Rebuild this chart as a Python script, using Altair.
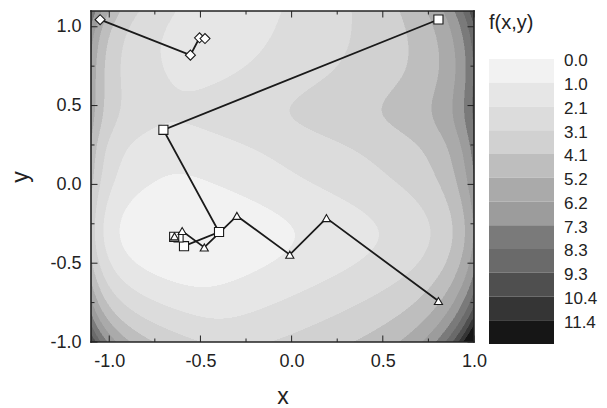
import numpy as np
import pandas as pd
import altair as alt

FONT = "Liberation Sans"
INK = "#222222"

# ---------------- axes ----------------
X_RANGE = [-1.1, 1.0]
Y_RANGE = [-1.0, 1.1]
x_major = [-1.0, -0.5, 0.0, 0.5, 1.0]
x_minor = [-0.75, -0.25, 0.25, 0.75]
y_major = [-1.0, -0.5, 0.0, 0.5, 1.0]
y_minor = [-0.75, -0.25, 0.25, 0.75]

# ---------------- colour levels ----------------
level_labels = ["0.0", "1.0", "2.1", "3.1", "4.1", "5.2", "6.2", "7.3", "8.3", "9.3", "10.4", "11.4"]
level_bounds = [1.04, 2.07, 3.11, 4.15, 5.18, 6.22, 7.25, 8.29, 9.33, 10.36, 11.40]
band_colors = ["#f2f2f2", "#e6e6e6", "#dcdcdc", "#d1d1d1", "#bebebe", "#aaaaaa",
               "#9c9c9c", "#7a7a7a", "#6a6a6a", "#4f4f4f", "#353535", "#161616"]

# ---------------- optimisation paths ----------------
diamond_x = [-1.05, -0.555, -0.505, -0.475]
diamond_y = [1.045, 0.82, 0.93, 0.925]
square_x = [0.805, -0.703, -0.398, -0.59, -0.62, -0.644]
square_y = [1.046, 0.346, -0.302, -0.392, -0.337, -0.333]
triangle_x = [0.805, 0.191, -0.01, -0.30, -0.479, -0.60, -0.642]
triangle_y = [-0.74, -0.214, -0.446, -0.20, -0.40, -0.296, -0.33]

# ---------------- surface shape ----------------
floor_y = [-1.0, -0.65, -0.3, 0.04, 0.24, 0.39, 0.48, 0.575, 0.69, 0.9, 1.1]
floor_val = [2.8, 1.0, 0.0, 0.95, 1.5, 2.03, 2.15, 2.07, 1.85, 1.55, 1.45]
centre_y = [-1.0, -0.65, -0.3, 0.04, 0.45, 0.7, 0.9, 1.1]
centre_x = [-0.35, -0.5, -0.6, -0.63, -0.64, -0.53, -0.47, -0.4]
slope_y = [-1.0, -0.3, 0.45, 1.1]
slope_right = [2.2, 2.15, 1.95, 2.55]
slope_left = [2.4, 2.4, 2.4, 2.4]
wall_right_amp = [3.0, 3.0, 3.4, 3.0]


def spline(xk, yk, xq):
    xk = np.asarray(xk, float)
    yk = np.asarray(yk, float)
    n = len(xk)
    h = np.diff(xk)
    A = np.zeros((n, n))
    r = np.zeros(n)
    A[0, 0] = 1.0
    A[-1, -1] = 1.0
    for i in range(1, n - 1):
        A[i, i - 1] = h[i - 1]
        A[i, i] = 2 * (h[i - 1] + h[i])
        A[i, i + 1] = h[i]
        r[i] = 6 * ((yk[i + 1] - yk[i]) / h[i] - (yk[i] - yk[i - 1]) / h[i - 1])
    M = np.linalg.solve(A, r)
    xq = np.clip(xq, xk[0], xk[-1])
    idx = np.clip(np.searchsorted(xk, xq) - 1, 0, n - 2)
    x0, x1 = xk[idx], xk[idx + 1]
    hh = x1 - x0
    t0, t1 = x1 - xq, xq - x0
    return ((M[idx] * t0 ** 3 + M[idx + 1] * t1 ** 3) / (6 * hh)
            + (yk[idx] / hh - M[idx] * hh / 6) * t0
            + (yk[idx + 1] / hh - M[idx + 1] * hh / 6) * t1)


def surface(x, y):
    m = spline(floor_y, floor_val, y)
    c = spline(centre_y, centre_x, y)
    aR = spline(slope_y, slope_right, y)
    aL = spline(slope_y, slope_left, y)
    AR = spline(slope_y, wall_right_amp, y)
    d = x - c
    hd = np.sqrt(d ** 2 + 0.15 ** 2) - 0.15
    f = m + np.where(d > 0, aR, aL) * hd
    u = x + 1.1
    f += AR * np.exp(8 * (x - 1))
    f += 2.6 * np.exp(4.5 * (x - 1) + 5 * (y - 1.1))
    f += 6.0 * np.exp(6 * (x - 1) - 5 * (y + 1))
    f += 2.75 * np.exp(-11.5 * u)
    f += 2.8 * np.exp(-4.8 * u + 5 * (y - 1.1))
    f += 3.5 * np.exp(-5 * u - 5 * (y + 1))
    return np.maximum(f, 0)


W, H = 383, 331
X0, X1 = X_RANGE
Y0, Y1 = Y_RANGE
NX, NY = 2 * W, H
dx = (X1 - X0) / NX
dy = (Y1 - Y0) / NY
xc = X0 + (np.arange(NX) + 0.5) * dx
yc = Y1 - (np.arange(NY) + 0.5) * dy
XX, YY = np.meshgrid(xc, yc)
B = np.searchsorted(level_bounds, surface(XX, YY), side="right")
ov_x = 0.7 * (X1 - X0) / W
ov_y = 0.6 * (Y1 - Y0) / H
cells = []
for k in range(NY):
    b = B[k]
    ch = np.flatnonzero(np.diff(b)) + 1
    starts = np.r_[0, ch]
    ends = np.r_[ch, NX]
    for s, e in zip(starts, ends):
        cells.append((X0 + s * dx, min(X0 + e * dx + ov_x, X1),
                      Y1 - k * dy, max(Y1 - (k + 1) * dy - ov_y, Y0), band_colors[b[s]]))
cell_df = pd.DataFrame(cells, columns=["x", "x2", "y", "y2", "fill"])

xs = alt.Scale(domain=X_RANGE, nice=False, zero=False)
ys = alt.Scale(domain=Y_RANGE, nice=False, zero=False)
label_expr = "replace(format(datum.value, '.1f'), '\u2212', '-')"

x_axis = alt.Axis(values=x_major, labelExpr=label_expr, ticks=False, domain=False, grid=False,
                  labelFlush=False, labelFontSize=18, labelFont=FONT, labelColor=INK, labelPadding=10,
                  title="x", titleFont=FONT, titleFontSize=23, titleFontWeight="normal",
                  titleColor=INK, titlePadding=15)
y_axis = alt.Axis(values=y_major, labelExpr=label_expr, ticks=False, domain=False, grid=False,
                  labelFlush=False, labelFontSize=18, labelFont=FONT, labelColor=INK, labelPadding=10,
                  title="y", titleFont=FONT, titleFontSize=23, titleFontWeight="normal",
                  titleColor=INK, titlePadding=17)

field = alt.Chart(cell_df).mark_rect(strokeWidth=0).encode(
    x=alt.X("x:Q", scale=xs, axis=x_axis),
    x2="x2:Q",
    y=alt.Y("y:Q", scale=ys, axis=y_axis),
    y2="y2:Q",
    color=alt.Color("fill:N", scale=None),
)

paths = pd.concat([
    pd.DataFrame({"px": diamond_x, "py": diamond_y, "series": "diamond", "step": range(len(diamond_x))}),
    pd.DataFrame({"px": square_x, "py": square_y, "series": "square", "step": range(len(square_x))}),
    pd.DataFrame({"px": triangle_x, "py": triangle_y, "series": "triangle", "step": range(len(triangle_x))}),
])
lines = alt.Chart(paths).mark_line(color="#1a1a1a", strokeWidth=1.8).encode(
    x=alt.X("px:Q", scale=xs), y=alt.Y("py:Q", scale=ys),
    detail="series:N", order="step:Q")
points = alt.Chart(paths).mark_point(filled=True, fill="white", stroke="#1a1a1a",
                                     strokeWidth=1.1, opacity=1).encode(
    x=alt.X("px:Q", scale=xs), y=alt.Y("py:Q", scale=ys),
    shape=alt.Shape("series:N", scale=alt.Scale(domain=["diamond", "square", "triangle"],
                                                range=["diamond", "square", "triangle-up"]),
                    legend=None),
    size=alt.Size("series:N", scale=alt.Scale(domain=["diamond", "square", "triangle"],
                                              range=[100, 66, 95]), legend=None),
)


def tick_layers(vals, length):
    t = pd.DataFrame({"v": vals})
    base = alt.Chart(t)
    bottom = base.mark_rule(color=INK, strokeWidth=1, y2Offset=-length).encode(
        x=alt.X("v:Q", scale=xs), y=alt.datum(Y0, scale=ys), y2=alt.datum(Y0))
    top = base.mark_rule(color=INK, strokeWidth=1, y2Offset=length).encode(
        x=alt.X("v:Q", scale=xs), y=alt.datum(Y1, scale=ys), y2=alt.datum(Y1))
    left = base.mark_rule(color=INK, strokeWidth=1, x2Offset=length).encode(
        y=alt.Y("v:Q", scale=ys), x=alt.datum(X0, scale=xs), x2=alt.datum(X0))
    right = base.mark_rule(color=INK, strokeWidth=1, x2Offset=-length).encode(
        y=alt.Y("v:Q", scale=ys), x=alt.datum(X1, scale=xs), x2=alt.datum(X1))
    return [bottom, top, left, right]


frame_df = pd.DataFrame({
    "fx": [X0, X0, X0, X1], "fx2": [X1, X1, X0, X1],
    "fy": [Y0, Y1, Y0, Y0], "fy2": [Y0, Y1, Y1, Y1]})
frame = alt.Chart(frame_df).mark_rule(color=INK, strokeWidth=1.6, strokeCap="square").encode(
    x=alt.X("fx:Q", scale=xs), x2="fx2:Q", y=alt.Y("fy:Q", scale=ys), y2="fy2:Q")

main = alt.layer(field, *tick_layers(x_major, 6.5), *tick_layers(x_minor, 3.5),
                 lines, points, frame).properties(width=W, height=H)

# ---------------- colour bar ----------------
cb = pd.DataFrame({"band": list(range(12)), "band_end": list(range(1, 13)),
                   "label": level_labels, "fill": band_colors})
band_scale = alt.Scale(domain=[-2.021, 11.916], reverse=True, nice=False, zero=False)
bars = alt.Chart(cb).mark_rect().encode(
    y=alt.Y("band:Q", scale=band_scale, axis=None), y2="band_end:Q",
    x=alt.value(0), x2=alt.value(65),
    color=alt.Color("fill:N", scale=None))
labels = alt.Chart(cb).mark_text(align="left", baseline="middle", dy=2.5, fontSize=17,
                                 font=FONT, color=INK).encode(
    y=alt.Y("band:Q", scale=band_scale, axis=None), x=alt.value(75), text="label:N")
cb_title = alt.Chart(pd.DataFrame({"t": ["f(x,y)"]})).mark_text(
    align="left", baseline="middle", fontSize=20, font=FONT, color=INK).encode(
    x=alt.value(0), y=alt.value(11.5), text="t:N")
colorbar = alt.layer(bars, labels, cb_title).properties(width=65, height=H)

chart = alt.hconcat(main, colorbar, spacing=15, bounds="flush").properties(
    padding={"left": 1, "top": 1, "right": 0, "bottom": 0}
).configure_view(stroke="transparent")

chart.save("out.html", embed_options={"renderer": "svg", "actions": False})
